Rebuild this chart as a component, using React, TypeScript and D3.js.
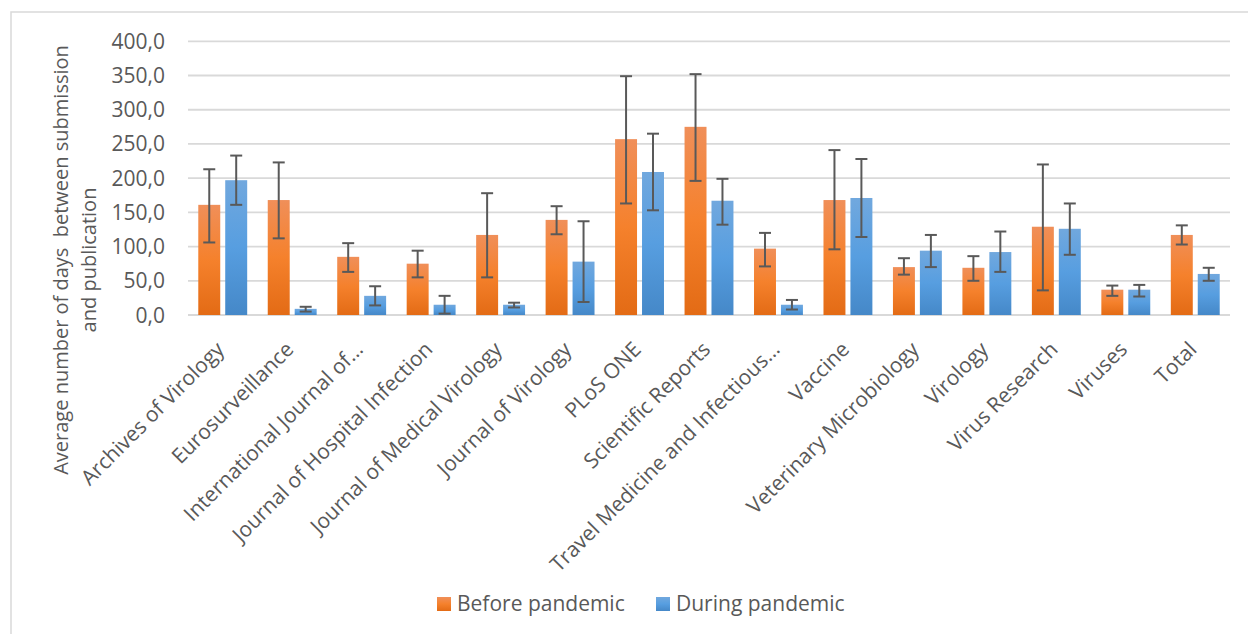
import React from "react";
import * as d3 from "d3";

const categories = [
  "Archives of Virology",
  "Eurosurveillance",
  "International Journal of…",
  "Journal of Hospital Infection",
  "Journal of Medical Virology",
  "Journal of Virology",
  "PLoS ONE",
  "Scientific Reports",
  "Travel Medicine and Infectious…",
  "Vaccine",
  "Veterinary Microbiology",
  "Virology",
  "Virus Research",
  "Viruses",
  "Total",
];
const seriesNames = ["Before pandemic", "During pandemic"];
const before = [161, 168, 85, 75, 117, 139, 257, 275, 97, 168, 70, 69, 129, 37, 117];
const beforeHigh = [213, 223, 105, 94, 178, 159, 349, 352, 120, 241, 83, 86, 220, 43, 131];
const beforeLow = [106, 112, 63, 55, 55, 118, 163, 196, 71, 96, 59, 50, 36, 28, 103];
const during = [197, 9, 28, 15, 15, 78, 209, 167, 15, 171, 94, 92, 126, 37, 60];
const duringHigh = [233, 12, 42, 28, 18, 137, 265, 199, 22, 228, 117, 122, 163, 44, 69];
const duringLow = [161, 5, 14, 2, 11, 19, 153, 132, 8, 114, 70, 63, 88, 27, 50];
const yTicks = [0, 50, 100, 150, 200, 250, 300, 350, 400];
const yTitle = ["Average number of days  between submission", "and publication"];

const FONT = "'Open Sans', 'Noto Sans', sans-serif";
const TXT = "#595959";

export default function App() {
  const W = 1248, H = 634;
  const x = d3.scaleBand<string>().domain(categories).range([188, 1230]).paddingInner(0).paddingOuter(0);
  const bw = x.bandwidth();
  const sub = d3.scaleBand<string>().domain(seriesNames).range([bw * 0.148, bw * 0.852]).paddingInner(0.185).paddingOuter(0);
  const y = d3.scaleLinear().domain([0, 400]).range([315, 41.3]);
  const fmt = d3.formatLocale({ decimal: ",", thousands: ".", grouping: [3], currency: ["", ""] }).format(".1f");

  const series = [
    { name: seriesNames[0], vals: before, hi: beforeHigh, lo: beforeLow, grad: "gOrange" },
    { name: seriesNames[1], vals: during, hi: duringHigh, lo: duringLow, grad: "gBlue" },
  ];
  const cap = 6;

  return (
    <svg width={W} height={H} style={{ position: "absolute", left: 0, top: 0, background: "#fff" }} fontFamily={FONT}>
      <defs>
        <linearGradient id="gOrange" x1="0" y1="0" x2="0" y2="1">
          <stop offset="0" stopColor="#f08f59" />
          <stop offset="0.5" stopColor="#f5812c" />
          <stop offset="1" stopColor="#e36b15" />
        </linearGradient>
        <linearGradient id="gBlue" x1="0" y1="0" x2="0" y2="1">
          <stop offset="0" stopColor="#71a8de" />
          <stop offset="0.5" stopColor="#579ee0" />
          <stop offset="1" stopColor="#4588c8" />
        </linearGradient>
      </defs>
      <rect x={11} y={12} width={1400} height={800} fill="none" stroke="#d9d9d9" strokeWidth={1.5} />
      {yTicks.map((t) => (
        <g key={t}>
          <line x1={188} x2={1230} y1={y(t)} y2={y(t)} stroke="#d9d9d9" strokeWidth={1.8} />
          <text x={165} y={y(t)} dy="0.36em" textAnchor="end" fontSize={21} fill={TXT}>
            {fmt(t)}
          </text>
        </g>
      ))}
      {series.map((s) =>
        categories.map((c, i) => {
          const bx = (x(c) as number) + (sub(s.name) as number);
          const w = sub.bandwidth();
          const cx = bx + w / 2;
          return (
            <g key={s.name + c}>
              <rect x={bx} y={y(s.vals[i])} width={w} height={y(0) - y(s.vals[i])} fill={`url(#${s.grad})`} />
              <line x1={cx} x2={cx} y1={y(s.hi[i])} y2={y(s.lo[i])} stroke={TXT} strokeWidth={2} />
              <line x1={cx - cap} x2={cx + cap} y1={y(s.hi[i])} y2={y(s.hi[i])} stroke={TXT} strokeWidth={2} />
              <line x1={cx - cap} x2={cx + cap} y1={y(s.lo[i])} y2={y(s.lo[i])} stroke={TXT} strokeWidth={2} />
            </g>
          );
        })
      )}
      {categories.map((c) => {
        const cx = (x(c) as number) + bw / 2;
        return (
          <text key={c} transform={`translate(${cx - 8},${340}) rotate(-45)`} dy="0.72em" textAnchor="end" fontSize={21} fill={TXT}>
            {c}
          </text>
        );
      })}
      {yTitle.map((l, i) => (
        <text key={l} transform={`translate(${68 + i * 28},${260}) rotate(-90)`} textAnchor="middle" fontSize={20} fill={TXT} style={{ whiteSpace: "pre" }}>
          {l}
        </text>
      ))}
      {series.map((s, i) => {
        const lx = i === 0 ? 437 : 656;
        return (
          <g key={s.name}>
            <rect x={lx} y={597} width={14} height={14} fill={`url(#${s.grad})`} />
            <text x={lx + 20} y={611} fontSize={21} fill={TXT}>
              {s.name}
            </text>
          </g>
        );
      })}
    </svg>
  );
}
